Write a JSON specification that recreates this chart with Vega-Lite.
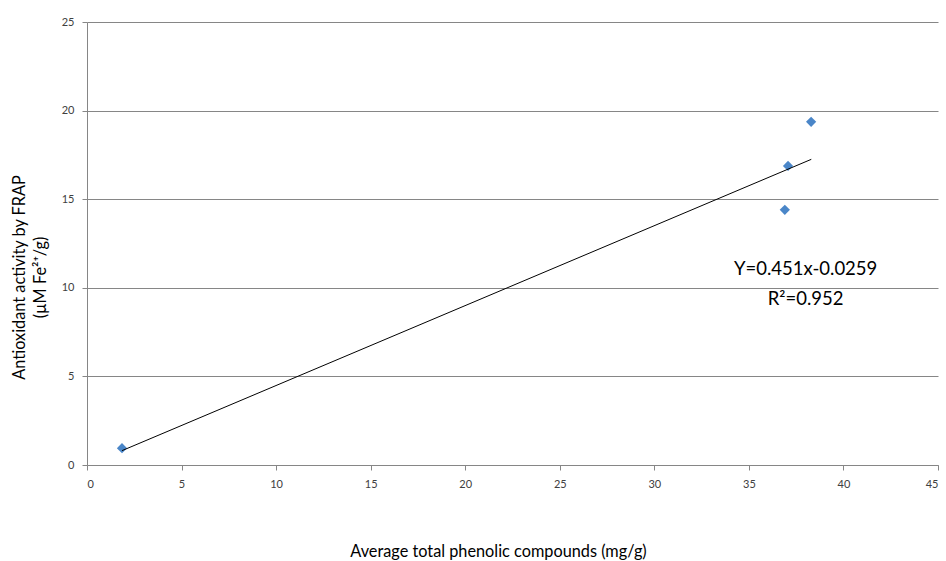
{
  "$schema": "https://vega.github.io/schema/vega-lite/v6.json",
  "autosize": "none",
  "width": 851,
  "height": 443,
  "padding": {"left": 87, "top": 22, "right": 8, "bottom": 96},
  "background": "white",
  "config": {
    "view": {"stroke": null},
    "font": "Lato",
    "axis": {
      "labelFont": "Lato",
      "titleFont": "Lato",
      "labelColor": "#404040",
      "titleColor": "#000000",
      "labelFontSize": 11,
      "titleFontSize": 16.3,
      "titleFontWeight": "normal",
      "domainColor": "#868686",
      "tickColor": "#868686",
      "gridColor": "#868686",
      "gridOpacity": 1,
      "tickSize": 5
    }
  },
  "datasets": {
    "points": [
      {"x": 1.85, "y": 0.95},
      {"x": 36.9, "y": 14.4},
      {"x": 37.07, "y": 16.88},
      {"x": 38.29, "y": 19.37}
    ],
    "trend": [
      {"x": 1.85, "y": 0.81},
      {"x": 38.3, "y": 17.25}
    ],
    "notes": [
      {"x": 38.0, "y": 11.05, "label": "Y=0.451x-0.0259"},
      {"x": 38.0, "y": 9.35, "label": "R²=0.952"}
    ]
  },
  "layer": [
    {
      "data": {"name": "points"},
      "mark": {"type": "point", "shape": "diamond", "filled": true, "color": "#4A86C8", "size": 105, "opacity": 1},
      "encoding": {
        "x": {
          "field": "x", "type": "quantitative",
          "scale": {"domain": [0, 45], "nice": false, "zero": true},
          "axis": {
            "values": [0, 5, 10, 15, 20, 25, 30, 35, 40, 45],
            "grid": false,
            "title": "Average total phenolic compounds (mg/g)",
            "titleX": 411,
            "titleY": 86,
            "titleBaseline": "middle",
            "labelPadding": 8
          }
        },
        "y": {
          "field": "y", "type": "quantitative",
          "scale": {"domain": [0, 25], "nice": false},
          "axis": {
            "values": [0, 5, 10, 15, 20, 25],
            "grid": true,
            "title": ["Antioxidant activity by FRAP", "(µM Fe²⁺/g)"],
            "titleX": -76,
            "titleY": 255,
            "titleAngle": -90,
            "titleAlign": "center",
            "titleBaseline": "top",
            "titleLineHeight": 21,
            "labelPadding": 8
          }
        }
      }
    },
    {
      "data": {"name": "trend"},
      "mark": {"type": "line", "color": "#000000", "strokeWidth": 1},
      "encoding": {
        "x": {"field": "x", "type": "quantitative"},
        "y": {"field": "y", "type": "quantitative"}
      }
    },
    {
      "data": {"name": "notes"},
      "mark": {"type": "text", "font": "Lato", "fontSize": 18.5, "color": "#000000", "align": "center", "baseline": "middle"},
      "encoding": {
        "x": {"field": "x", "type": "quantitative"},
        "y": {"field": "y", "type": "quantitative"},
        "text": {"field": "label"}
      }
    }
  ]
}
